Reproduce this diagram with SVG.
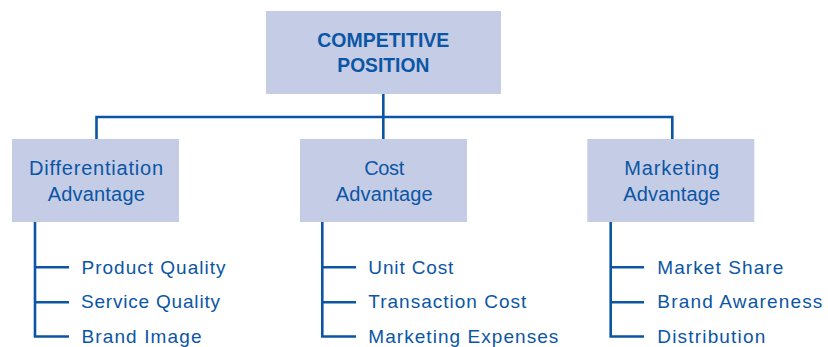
<svg xmlns="http://www.w3.org/2000/svg" width="828" height="347" viewBox="0 0 828 347">
<style>
.box{fill:#c5cce6}
.ln{stroke:#0b56a4;stroke-width:2.6;fill:none}
text{font-family:"Liberation Sans",Arial,sans-serif;fill:#0b56a4}
.t{font-size:20px;text-anchor:middle}
.h{font-size:20.5px;font-weight:bold;text-anchor:middle}
.i{font-size:19px}
</style>
<rect width="828" height="347" fill="#ffffff"/>
<g id="connectors">
<path class="ln" d="M383.3 94V117M96.5 139V117H672.3V139M383.3 117V139"/>
<path class="ln" d="M35 222V336.5H69M35 267.3H69M35 302.3H69"/>
<path class="ln" d="M322.3 222V336.5H356M322.3 267.3H356M322.3 302.3H356"/>
<path class="ln" d="M610.7 222V336.5H644M610.7 267.3H644M610.7 302.3H644"/>
</g>
<g id="competitive-position">
<rect class="box" x="266" y="11" width="235" height="83"/>
<text class="h" x="383.3" y="46.7" textLength="132" lengthAdjust="spacingAndGlyphs">COMPETITIVE</text>
<text class="h" x="383.3" y="71.7" textLength="92" lengthAdjust="spacingAndGlyphs">POSITION</text>
</g>
<g id="differentiation-advantage">
<rect class="box" x="12" y="139" width="167" height="83"/>
<text class="t" x="96" y="175" textLength="134" lengthAdjust="spacing">Differentiation</text>
<text class="t" x="96.3" y="200.7" textLength="97" lengthAdjust="spacing">Advantage</text>
</g>
<g id="cost-advantage">
<rect class="box" x="300" y="139" width="167" height="83"/>
<text class="t" x="384.2" y="175" textLength="40" lengthAdjust="spacing">Cost</text>
<text class="t" x="384.2" y="200.7" textLength="97" lengthAdjust="spacing">Advantage</text>
</g>
<g id="marketing-advantage">
<rect class="box" x="587.3" y="139" width="167" height="83"/>
<text class="t" x="671.7" y="175" textLength="95" lengthAdjust="spacing">Marketing</text>
<text class="t" x="671.7" y="200.7" textLength="97" lengthAdjust="spacing">Advantage</text>
</g>
<g id="product-quality"><text class="i" x="81.5" y="274" textLength="144" lengthAdjust="spacing">Product Quality</text></g>
<g id="service-quality"><text class="i" x="81" y="308.3" textLength="139" lengthAdjust="spacing">Service Quality</text></g>
<g id="brand-image"><text class="i" x="81.5" y="342.7" textLength="120" lengthAdjust="spacing">Brand Image</text></g>
<g id="unit-cost"><text class="i" x="368.3" y="274" textLength="85" lengthAdjust="spacing">Unit Cost</text></g>
<g id="transaction-cost"><text class="i" x="368.3" y="308.3" textLength="158" lengthAdjust="spacing">Transaction Cost</text></g>
<g id="marketing-expenses"><text class="i" x="368.3" y="342.7" textLength="190" lengthAdjust="spacing">Marketing Expenses</text></g>
<g id="market-share"><text class="i" x="657.3" y="274" textLength="126" lengthAdjust="spacing">Market Share</text></g>
<g id="brand-awareness"><text class="i" x="657.3" y="308.3" textLength="165" lengthAdjust="spacing">Brand Awareness</text></g>
<g id="distribution"><text class="i" x="657.3" y="342.7" textLength="108" lengthAdjust="spacing">Distribution</text></g>
</svg>
